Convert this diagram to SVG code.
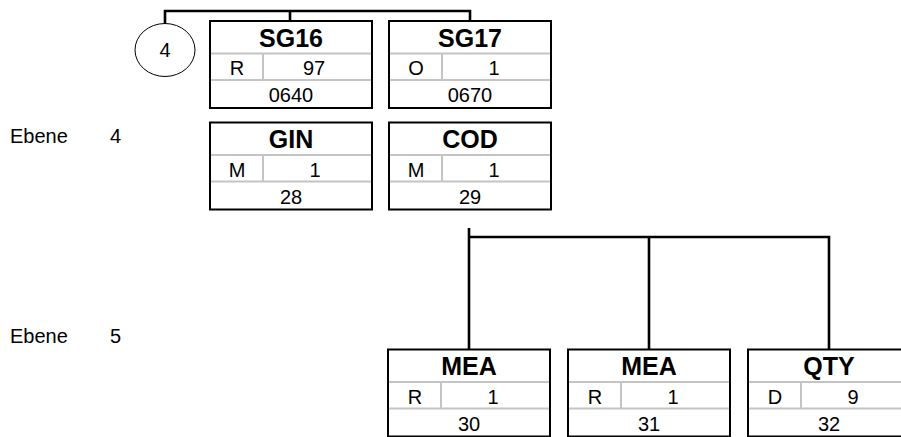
<svg xmlns="http://www.w3.org/2000/svg" width="901" height="437" viewBox="0 0 901 437">
<style>
.box{fill:#fff;stroke:#000;stroke-width:2}
.div{stroke:#c4c4c4;stroke-width:2;fill:none}
.con{stroke:#000;stroke-width:2.6;fill:none}
.h{font-family:"Liberation Sans",Arial,sans-serif;font-weight:bold;font-size:25px;text-anchor:middle;fill:#000}
.t{font-family:"Liberation Sans",Arial,sans-serif;font-size:20px;text-anchor:middle;fill:#000}
.l{font-family:"Liberation Sans",Arial,sans-serif;font-size:20px;fill:#000}
</style>
<defs>
<g id="tpl">
<rect class="box" x="0" y="0" width="162" height="87"/>
<line class="div" x1="1" y1="32.5" x2="161" y2="32.5"/>
<line class="div" x1="1" y1="59" x2="161" y2="59"/>
<line class="div" x1="53" y1="32.5" x2="53" y2="59"/>
</g>
</defs>
<g id="connectors">
<polyline class="con" points="165,24 165,11 470,11 470,21"/>
<line class="con" x1="290" y1="11" x2="290" y2="21"/>
<line class="con" x1="469" y1="228" x2="469" y2="350"/>
<polyline class="con" points="469,237 829,237 829,350"/>
<line class="con" x1="649" y1="237" x2="649" y2="350"/>
</g>
<g id="labels">
<text class="l" x="10" y="143">Ebene</text>
<text class="l" x="110" y="143">4</text>
<text class="l" x="10" y="343">Ebene</text>
<text class="l" x="110" y="343">5</text>
</g>
<g id="circle4">
<ellipse cx="165" cy="50" rx="30" ry="26.5" fill="#fff" stroke="#000" stroke-width="1"/>
<text class="t" x="165" y="57">4</text>
</g>
<g id="SG16" transform="translate(210,21)">
<use href="#tpl"/>
<text class="h" x="81" y="25.5">SG16</text>
<text class="t" x="27" y="54">R</text>
<text class="t" x="104" y="54">97</text>
<text class="t" x="81" y="81">0640</text>
</g>
<g id="SG17" transform="translate(389,21)">
<use href="#tpl"/>
<text class="h" x="81" y="25.5">SG17</text>
<text class="t" x="27" y="54">O</text>
<text class="t" x="105" y="54">1</text>
<text class="t" x="81" y="81">0670</text>
</g>
<g id="GIN" transform="translate(210,122.5)">
<use href="#tpl"/>
<text class="h" x="81" y="25.5">GIN</text>
<text class="t" x="27" y="54">M</text>
<text class="t" x="105" y="54">1</text>
<text class="t" x="81" y="81">28</text>
</g>
<g id="COD" transform="translate(389,122.5)">
<use href="#tpl"/>
<text class="h" x="81" y="25.5">COD</text>
<text class="t" x="27" y="54">M</text>
<text class="t" x="105" y="54">1</text>
<text class="t" x="81" y="81">29</text>
</g>
<g id="MEA30" transform="translate(388,349.5)">
<use href="#tpl"/>
<text class="h" x="81" y="25.5">MEA</text>
<text class="t" x="27" y="54">R</text>
<text class="t" x="105" y="54">1</text>
<text class="t" x="81" y="81">30</text>
</g>
<g id="MEA31" transform="translate(568,349.5)">
<use href="#tpl"/>
<text class="h" x="81" y="25.5">MEA</text>
<text class="t" x="27" y="54">R</text>
<text class="t" x="105" y="54">1</text>
<text class="t" x="81" y="81">31</text>
</g>
<g id="QTY32" transform="translate(748,349.5)">
<use href="#tpl"/>
<text class="h" x="81" y="25.5">QTY</text>
<text class="t" x="27" y="54">D</text>
<text class="t" x="105" y="54">9</text>
<text class="t" x="81" y="81">32</text>
</g>
</svg>
